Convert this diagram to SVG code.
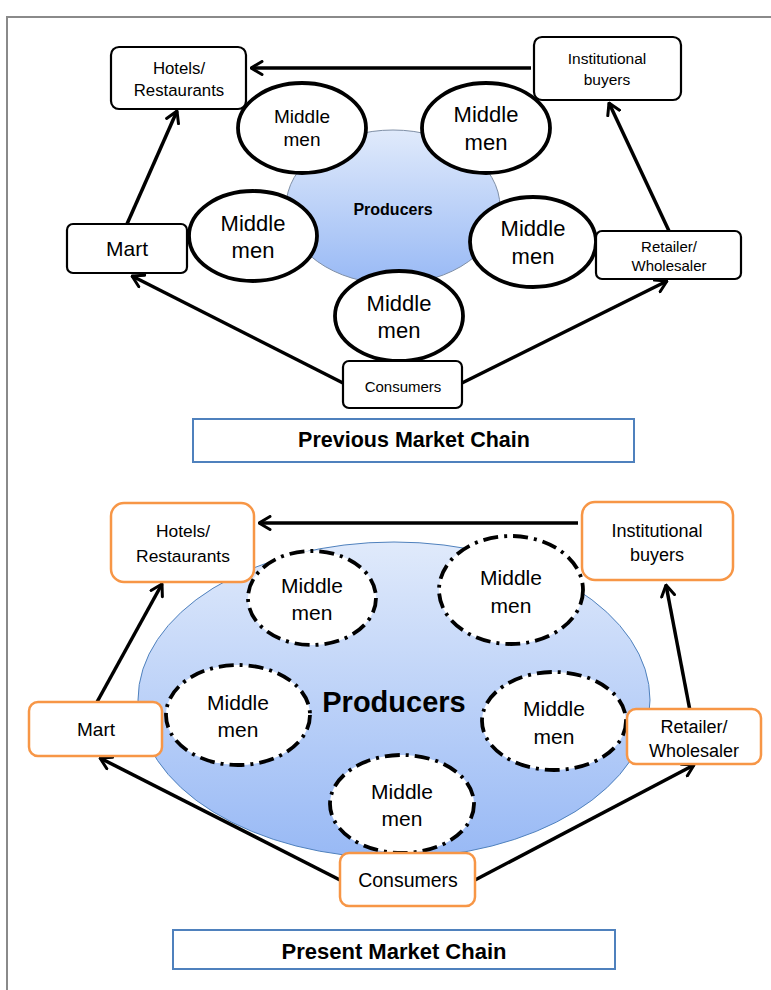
<svg xmlns="http://www.w3.org/2000/svg" width="771" height="990" viewBox="0 0 771 990">
<style>
text{font-family:"Liberation Sans",Arial,sans-serif;fill:#000;text-anchor:middle}
.bx{fill:#fff;stroke:#000;stroke-width:2.2}
.ob{fill:#fff;stroke:#f79646;stroke-width:2.5}
.mm{fill:#fff;stroke:#000;stroke-width:3.8}
.md{fill:#fff;stroke:#000;stroke-width:3.8;stroke-dasharray:15 6 3 6}
.ar{fill:none;stroke:#000;stroke-width:3.5;marker-end:url(#ah)}
.tt{fill:#fff;stroke:#4f81bd;stroke-width:2}
.b{font-weight:bold}
</style>
<defs>
<marker id="ah" viewBox="0 0 14 16" refX="12.5" refY="8" markerWidth="14" markerHeight="16" markerUnits="userSpaceOnUse" orient="auto">
<path d="M1.5,1.5 L12.5,8 L1.5,14.5" fill="none" stroke="#000" stroke-width="3" stroke-linecap="round" stroke-linejoin="round"/>
</marker>
<linearGradient id="g1" x1="0" y1="0" x2="0" y2="1">
<stop offset="0" stop-color="#e0eafb"/>
<stop offset="1" stop-color="#98b9f5"/>
</linearGradient>
</defs>
<rect width="771" height="990" fill="#fff"/>
<path d="M7,990 V17 H771" fill="none" stroke="#8a8a8a" stroke-width="2"/>

<!-- TOP SECTION -->
<g id="producers-prev"><ellipse cx="393" cy="207" rx="107" ry="77" fill="url(#g1)" stroke="#7f8fa6" stroke-width="1"/><text class="b" x="393" y="215" font-size="16">Producers</text></g>
<g id="connectors-prev">
<path class="ar" d="M531,68 H251"/>
<path class="ar" d="M127,224 L177,111"/>
<path class="ar" d="M669,231 L609,103"/>
<path class="ar" d="M343,383 L132,276"/>
<path class="ar" d="M462,383 L667,281"/>
</g>
<g id="mm-prev-1"><ellipse class="mm" cx="302" cy="128" rx="64" ry="45"/><text x="302" y="123" font-size="19">Middle</text><text x="302" y="146" font-size="19">men</text></g>
<g id="mm-prev-2"><ellipse class="mm" cx="486" cy="128" rx="64" ry="45"/><text x="486" y="122" font-size="22">Middle</text><text x="486" y="150" font-size="22">men</text></g>
<g id="mm-prev-3"><ellipse class="mm" cx="253" cy="236" rx="64" ry="45"/><text x="253" y="231" font-size="22">Middle</text><text x="253" y="258" font-size="22">men</text></g>
<g id="mm-prev-4"><ellipse class="mm" cx="533" cy="242" rx="63" ry="45"/><text x="533" y="236" font-size="22">Middle</text><text x="533" y="264" font-size="22">men</text></g>
<g id="mm-prev-5"><ellipse class="mm" cx="399" cy="316" rx="64" ry="45"/><text x="399" y="311" font-size="22">Middle</text><text x="399" y="338" font-size="22">men</text></g>
<g id="hotels-prev"><rect class="bx" x="111" y="47" width="135" height="62" rx="8"/><text x="179" y="74" font-size="16.8">Hotels/</text><text x="179" y="96" font-size="16.8">Restaurants</text></g>
<g id="inst-prev"><rect class="bx" x="534" y="37" width="147" height="63" rx="8"/><text x="607" y="64" font-size="15.5">Institutional</text><text x="607" y="85" font-size="15.5">buyers</text></g>
<g id="mart-prev"><rect class="bx" x="67" y="224" width="120" height="49" rx="6"/><text x="127" y="256" font-size="21">Mart</text></g>
<g id="retail-prev"><rect class="bx" x="596" y="231" width="145" height="48" rx="6"/><text x="669" y="252" font-size="15">Retailer/</text><text x="669" y="271" font-size="15">Wholesaler</text></g>
<g id="consumers-prev"><rect class="bx" x="343" y="361" width="119" height="47" rx="6"/><text x="403" y="392" font-size="15">Consumers</text></g>
<g id="title-prev"><rect class="tt" x="193" y="419" width="441" height="43"/><text class="b" x="414" y="447" font-size="21.5">Previous Market Chain</text></g>

<!-- BOTTOM SECTION -->
<g id="producers-pres"><ellipse cx="394" cy="700" rx="256" ry="158" fill="url(#g1)" stroke="#4f81bd" stroke-width="1"/><text class="b" x="394" y="712" font-size="29">Producers</text></g>
<g id="connectors-pres">
<path class="ar" d="M578,523 H259"/>
<path class="ar" d="M97,702 L162,584"/>
<path class="ar" d="M691,716 L666,585"/>
<path class="ar" d="M340,880 L100,758"/>
<path class="ar" d="M475,880 L694,765"/>
</g>
<g id="mm-pres-1"><ellipse class="md" cx="312" cy="598" rx="64" ry="47"/><text x="312" y="593" font-size="21">Middle</text><text x="312" y="620" font-size="21">men</text></g>
<g id="mm-pres-2"><ellipse class="md" cx="511" cy="590" rx="72" ry="54"/><text x="511" y="585" font-size="21">Middle</text><text x="511" y="613" font-size="21">men</text></g>
<g id="mm-pres-3"><ellipse class="md" cx="238" cy="715" rx="72" ry="50"/><text x="238" y="710" font-size="21">Middle</text><text x="238" y="737" font-size="21">men</text></g>
<g id="mm-pres-4"><ellipse class="md" cx="554" cy="721" rx="72" ry="49"/><text x="554" y="716" font-size="21">Middle</text><text x="554" y="744" font-size="21">men</text></g>
<g id="mm-pres-5"><ellipse class="md" cx="402" cy="804" rx="72" ry="49"/><text x="402" y="799" font-size="21">Middle</text><text x="402" y="826" font-size="21">men</text></g>
<g id="hotels-pres"><rect class="ob" x="111" y="503" width="143" height="79" rx="13"/><text x="183" y="537" font-size="17.4">Hotels/</text><text x="183" y="562" font-size="17.4">Restaurants</text></g>
<g id="inst-pres"><rect class="ob" x="582" y="502" width="151" height="78" rx="13"/><text x="657" y="537" font-size="18">Institutional</text><text x="657" y="561" font-size="18">buyers</text></g>
<g id="mart-pres"><rect class="ob" x="29" y="702" width="133" height="54" rx="9"/><text x="96" y="736" font-size="19">Mart</text></g>
<g id="retail-pres"><rect class="ob" x="627" y="709" width="134" height="55" rx="9"/><text x="694" y="733" font-size="18">Retailer/</text><text x="694" y="757" font-size="18">Wholesaler</text></g>
<g id="consumers-pres"><rect class="ob" x="340" y="853" width="135" height="53" rx="9"/><text x="408" y="887" font-size="19.5">Consumers</text></g>
<g id="title-pres"><rect class="tt" x="173" y="930" width="442" height="39"/><text class="b" x="394" y="959" font-size="22">Present Market Chain</text></g>
</svg>
